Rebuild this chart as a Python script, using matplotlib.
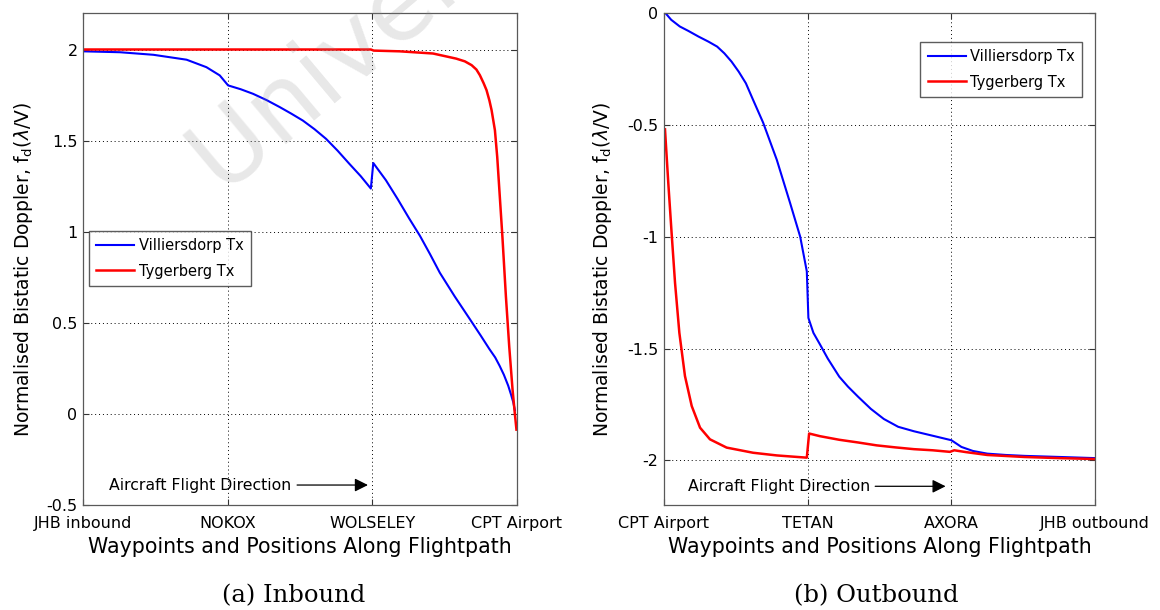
import matplotlib.pyplot as plt
import numpy as np

# waypoint labels along the flightpath
inbound_ticks = ['JHB inbound', 'NOKOX', 'WOLSELEY', 'CPT Airport']
outbound_ticks = ['CPT Airport', 'TETAN', 'AXORA', 'JHB outbound']

# inbound, Villiersdorp transmitter
in_vil_x = [0.0, 0.255, 0.486, 0.716, 0.853, 0.945, 1.003, 1.09, 1.175, 1.27, 1.36, 1.44,
            1.52, 1.60, 1.68, 1.76, 1.84, 1.92, 1.99, 2.007, 2.094, 2.175, 2.255, 2.33,
            2.40, 2.467, 2.57, 2.675, 2.75, 2.81, 2.85, 2.88, 2.91, 2.94, 2.96, 2.975, 2.986]
in_vil_y = [1.99, 1.985, 1.971, 1.944, 1.903, 1.858, 1.803, 1.782, 1.757, 1.722, 1.684, 1.648,
            1.61, 1.563, 1.51, 1.445, 1.374, 1.305, 1.237, 1.377, 1.283, 1.18, 1.073, 0.977,
            0.876, 0.775, 0.645, 0.52, 0.43, 0.356, 0.31, 0.265, 0.215, 0.155, 0.105, 0.064, 0.02]

# inbound, Tygerberg transmitter
in_tyg_x = [0.0, 1.0, 1.99, 2.01, 2.19, 2.42, 2.58, 2.64, 2.687, 2.72, 2.744, 2.77, 2.79,
            2.81, 2.825, 2.848, 2.864, 2.882, 2.90, 2.924, 2.947, 2.97, 2.986, 2.997]
in_tyg_y = [2.0, 2.0, 2.0, 1.994, 1.99, 1.978, 1.95, 1.935, 1.914, 1.89, 1.859, 1.815, 1.777,
            1.72, 1.667, 1.557, 1.41, 1.19, 0.97, 0.645, 0.37, 0.133, 0.0, -0.086]

# outbound, Villiersdorp transmitter
out_vil_x = [0.01, 0.05, 0.11, 0.17, 0.24, 0.31, 0.37, 0.42, 0.47, 0.52, 0.57, 0.62, 0.69,
             0.785, 0.878, 0.948, 0.994, 1.005, 1.04, 1.086, 1.14, 1.22, 1.28, 1.35,
             1.44, 1.53, 1.63, 1.74, 1.89, 2.0, 2.07, 2.15, 2.25, 2.38, 2.51, 2.76, 3.0]
out_vil_y = [0.0, -0.03, -0.06, -0.08, -0.105, -0.128, -0.15, -0.18, -0.217, -0.262, -0.314, -0.388, -0.49,
             -0.656, -0.85, -1.0, -1.155, -1.363, -1.43, -1.482, -1.545, -1.626, -1.67, -1.715,
             -1.77, -1.815, -1.85, -1.87, -1.893, -1.91, -1.94, -1.958, -1.97, -1.976, -1.98, -1.985, -1.99]

# outbound, Tygerberg transmitter
out_tyg_x = [0.007, 0.03, 0.053, 0.077, 0.107, 0.146, 0.193, 0.251, 0.32, 0.436, 0.62,
             0.785, 0.994, 1.01, 1.086, 1.22, 1.35, 1.48, 1.61, 1.74,
             1.87, 1.99, 2.02, 2.1, 2.25, 2.51, 2.75, 3.0]
out_tyg_y = [-0.52, -0.76, -0.983, -1.207, -1.43, -1.623, -1.757, -1.854, -1.906, -1.943, -1.966,
             -1.978, -1.988, -1.88, -1.892, -1.908, -1.92, -1.933, -1.942, -1.95,
             -1.955, -1.962, -1.955, -1.963, -1.976, -1.985, -1.99, -1.994]

plt.rcParams['font.family'] = 'DejaVu Sans'

fig = plt.figure(figsize=(11.6, 6.1), dpi=100)
ax1 = fig.add_axes([0.0716, 0.172, 0.374, 0.8066])
ax2 = fig.add_axes([0.5724, 0.172, 0.3716, 0.8066])


def style_axes(ax, ticks, ylim, yticks, ylab_x):
    ax.set_xlim(0, 3)
    ax.set_ylim(*ylim)
    ax.set_xticks(range(len(ticks)))
    ax.set_xticklabels(ticks, fontsize=11.5)
    ax.set_yticks(yticks)
    ax.set_yticklabels(['%g' % t for t in yticks], fontsize=11.5)
    ax.tick_params(direction='in', length=4, width=0.8, top=True, right=True,
                   color='0.2', pad=4)
    ax.tick_params(axis='x', pad=8)
    ax.grid(True, linestyle=(0, (1, 3)), color='black', linewidth=0.7)
    for s in ax.spines.values():
        s.set_color('0.35')
        s.set_linewidth(0.9)
    ax.set_xlabel('Waypoints and Positions Along Flightpath', fontsize=14.8, labelpad=4)
    ax.set_ylabel(r'Normalised Bistatic Doppler, f$_{\rm d}$($\lambda$/V)', fontsize=13.5)
    ax.yaxis.set_label_coords(ylab_x, 0.478)


style_axes(ax1, inbound_ticks, (-0.5, 2.2), [-0.5, 0, 0.5, 1, 1.5, 2], -0.11)
style_axes(ax2, outbound_ticks, (-2.2, 0), [-2, -1.5, -1, -0.5, 0], -0.116)

ax1.plot(in_vil_x, in_vil_y, color='#0000ff', lw=1.5, label='Villiersdorp Tx')
ax1.plot(in_tyg_x, in_tyg_y, color='#ff0000', lw=1.8, label='Tygerberg Tx')
ax2.plot(out_vil_x, out_vil_y, color='#0000ff', lw=1.5, label='Villiersdorp Tx')
ax2.plot(out_tyg_x, out_tyg_y, color='#ff0000', lw=1.8, label='Tygerberg Tx')

leg1 = ax1.legend(loc='upper left', bbox_to_anchor=(0.014, 0.557), borderaxespad=0,
                  fancybox=False, edgecolor='0.2', fontsize=10.5, handlelength=2.6,
                  borderpad=0.5, labelspacing=0.7, handletextpad=0.3)
leg2 = ax2.legend(loc='upper right', bbox_to_anchor=(0.97, 0.941), borderaxespad=0,
                  fancybox=False, edgecolor='0.2', fontsize=10.5, handlelength=2.6,
                  borderpad=0.5, labelspacing=0.7, handletextpad=0.3)
for leg in (leg1, leg2):
    leg.get_frame().set_linewidth(1.0)

# direction-of-travel annotations
ax1.annotate('', xy=(1.97, -0.39), xytext=(1.48, -0.39),
             arrowprops=dict(arrowstyle='-|>', color='black', lw=0.9, mutation_scale=20,
                             shrinkA=0, shrinkB=0))
ax1.text(0.18, -0.39, 'Aircraft Flight Direction', fontsize=11.3, va='center', ha='left')
ax2.annotate('', xy=(1.96, -2.116), xytext=(1.47, -2.116),
             arrowprops=dict(arrowstyle='-|>', color='black', lw=0.9, mutation_scale=20,
                             shrinkA=0, shrinkB=0))
ax2.text(0.17, -2.116, 'Aircraft Flight Direction', fontsize=11.3, va='center', ha='left')

fig.text(0.253, 0.012, '(a) Inbound', family='DejaVu Serif', fontsize=17.5, ha='center')
fig.text(0.755, 0.012, '(b) Outbound', family='DejaVu Serif', fontsize=17.5, ha='center')

# faint watermark
fig.text(0.193, 0.677, 'University of Cape Town', fontsize=72, color='0.55', alpha=0.2,
         rotation=40, rotation_mode='anchor', ha='left', va='baseline', zorder=10)

fig.savefig('out.png', dpi=100)
